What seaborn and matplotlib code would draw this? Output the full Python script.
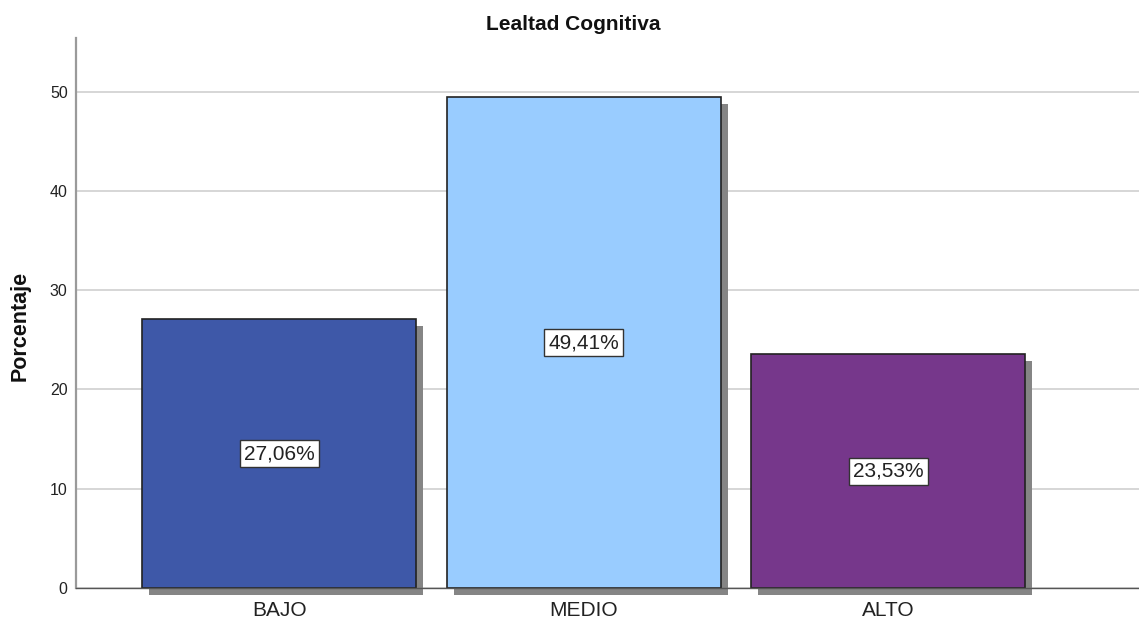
import matplotlib
matplotlib.use("Agg")
import matplotlib.pyplot as plt
import matplotlib.patheffects as pe
import seaborn as sns
import pandas as pd

categories = ["BAJO", "MEDIO", "ALTO"]
percentages = [27.06, 49.41, 23.53]
bar_colors = ["#3E58A8", "#99CCFF", "#76378B"]
y_ticks = [0, 10, 20, 30, 40, 50]

df = pd.DataFrame({"nivel": categories, "pct": percentages})

sns.set_theme(style="white")
plt.rcParams["font.family"] = ["Liberation Sans", "DejaVu Sans"]

W, H = 1139, 621
fig = plt.figure(figsize=(W / 100, H / 100), dpi=100)
ax = fig.add_axes([76 / W, (H - 588) / H, (W - 76) / W, (588 - 38) / H])

sns.barplot(data=df, x="nivel", y="pct", hue="nivel", palette=bar_colors,
            order=categories, hue_order=categories, width=0.9, saturation=1,
            edgecolor="#222222", linewidth=1.2, legend=False, ax=ax, zorder=3)

# drop shadow offset down-right of each bar
shadow = [pe.SimplePatchShadow(offset=(5, -5), shadow_rgbFace="#858585", alpha=1.0),
          pe.Normal()]
for bar in ax.patches:
    bar.set_path_effects(shadow)
    bar.set_clip_on(False)

for bar, val in zip(ax.patches, percentages):
    cx = bar.get_x() + bar.get_width() / 2
    ax.text(cx, val / 2, f"{val:.2f}%".replace(".", ","), ha="center", va="center",
            fontsize=15, color="#222222", zorder=5,
            bbox=dict(boxstyle="square,pad=0.2", fc="white", ec="#333333", lw=1))

ax.set_xlim(-0.668, 2.823)
ax.set_ylim(0, 55.4)
ax.set_yticks(y_ticks)
ax.yaxis.grid(True, color="#CFCFCF", lw=1.2, zorder=0)
ax.set_axisbelow(True)
ax.tick_params(axis="y", length=0, pad=6, labelsize=11.5, labelcolor="#222222")
ax.tick_params(axis="x", length=0, pad=9, labelsize=15, labelcolor="#222222")
ax.set_xlabel("")
ax.set_ylabel("")

for s in ["top", "right"]:
    ax.spines[s].set_visible(False)
ax.spines["left"].set_color("#9A9A9A")
ax.spines["left"].set_linewidth(1.6)
ax.spines["bottom"].set_color("#555555")
ax.spines["bottom"].set_linewidth(1.0)
ax.spines["bottom"].set_zorder(4)

fig.text(573 / W, 1 - 24 / H, "Lealtad Cognitiva", ha="center", va="center",
         fontsize=15, fontweight="bold", color="#111111")
fig.text(20 / W, 1 - 326 / H, "Porcentaje", ha="center", va="center",
         rotation=90, fontsize=15.5, fontweight="bold", color="#111111")

fig.savefig("out.png", dpi=100)
